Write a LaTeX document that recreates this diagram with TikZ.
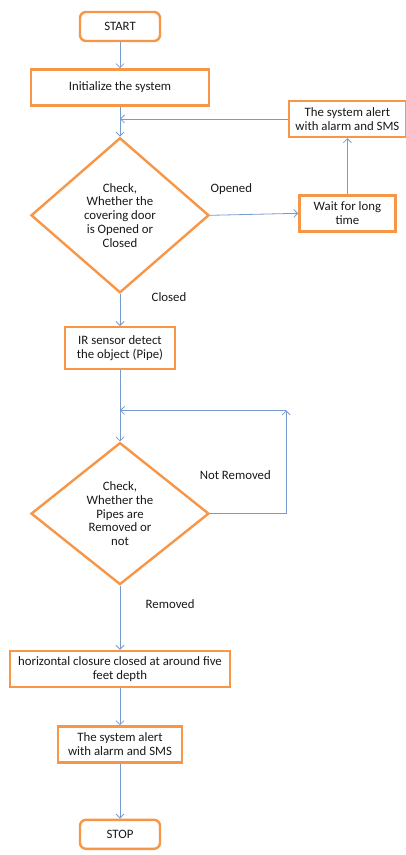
\documentclass[tikz,border=0pt]{standalone}
\usepackage{fontspec}
\setmainfont{Carlito}
\usetikzlibrary{arrows.meta,positioning,shapes.geometric}
\definecolor{boxorange}{RGB}{247,150,70}
\definecolor{flowblue}{RGB}{120,155,205}
\definecolor{textgray}{RGB}{25,25,25}

\begin{document}
\begin{tikzpicture}[
  node distance=30pt,
  box/.style={draw=boxorange, line width=2.4pt, fill=white, align=center, inner sep=2pt, font=\fontsize{12.8}{13.8}\selectfont, text=textgray},
  term/.style={box, rounded corners=6pt, minimum width=80pt, minimum height=29pt},
  decision/.style={box, diamond, inner sep=0pt, minimum width=178pt},
  arrow/.style={-{Straight Barb[length=4pt,width=8pt]}, draw=flowblue, line width=0.8pt},
  lbl/.style={font=\fontsize{12.8}{13.8}\selectfont, text=textgray}
]
\path[use as bounding box] (0pt,0pt) rectangle (405pt,-855pt);

% Start
\node[term] (start) at (120pt,-26.5pt) {START};

% Initialize
\node[box, below=26pt of start, minimum width=178pt, minimum height=36pt] (init) {Initialize the system};

% Door check
\node[decision, below=30pt of init, minimum height=155pt] (door) {Check,\\Whether the\\covering door\\is Opened or\\Closed};

% Wait and alert
\node[box, right=88pt of door, yshift=2pt, minimum width=96pt, minimum height=36pt] (wait) {Wait for long\\time};
\node[box, above=56pt of wait, minimum width=117pt, minimum height=36pt] (alarm) {The system alert\\with alarm and SMS};

% IR sensor
\node[box, below=32pt of door, minimum width=110pt, minimum height=42pt] (sensor) {IR sensor detect\\the object (Pipe)};

% Pipe check
\node[decision, below=71pt of sensor, minimum height=142pt] (pipes) {Check,\\Whether the\\Pipes are\\Removed or\\not};

% Closure
\node[box, below=64pt of pipes, minimum width=220pt, minimum height=36pt] (closure) {horizontal closure closed at around five\\feet depth};

% Final alert
\node[box, below=37pt of closure, minimum width=124pt, minimum height=36pt] (alert) {The system alert\\with alarm and SMS};

% Stop
\node[term, below=55pt of alert] (stop) {STOP};

% Joints
\coordinate (join1) at (init.south |- alarm.west);
\coordinate[above=31pt of pipes.north] (join2);
\coordinate[right=76pt of pipes.east] (back);
\coordinate (corner) at (back |- join2);

% Arrows with labels
\draw[arrow] (start) -- (init);
\draw[arrow] (init) -- (door);
\draw[arrow] (door.east) -- node[lbl, pos=0.24, above=17pt] {Opened} (wait.west);
\draw[arrow] (wait) -- (alarm);
\draw[arrow] (alarm) -- (join1);
\draw[arrow] (door.south) -- node[lbl, pos=0.1, right=28pt] {Closed} (sensor.north);
\draw[arrow] (sensor) -- (pipes);
\draw[arrow] (pipes.east) -- node[lbl, pos=0.33, above=30pt] {Not Removed} (back) -- (corner);
\draw[arrow] (corner) -- (join2);
\draw[arrow] (pipes.south) -- node[lbl, pos=0.28, right=22pt] {Removed} (closure.north);
\draw[arrow] (closure) -- (alert);
\draw[arrow] (alert) -- (stop);

\end{tikzpicture}
\end{document}
